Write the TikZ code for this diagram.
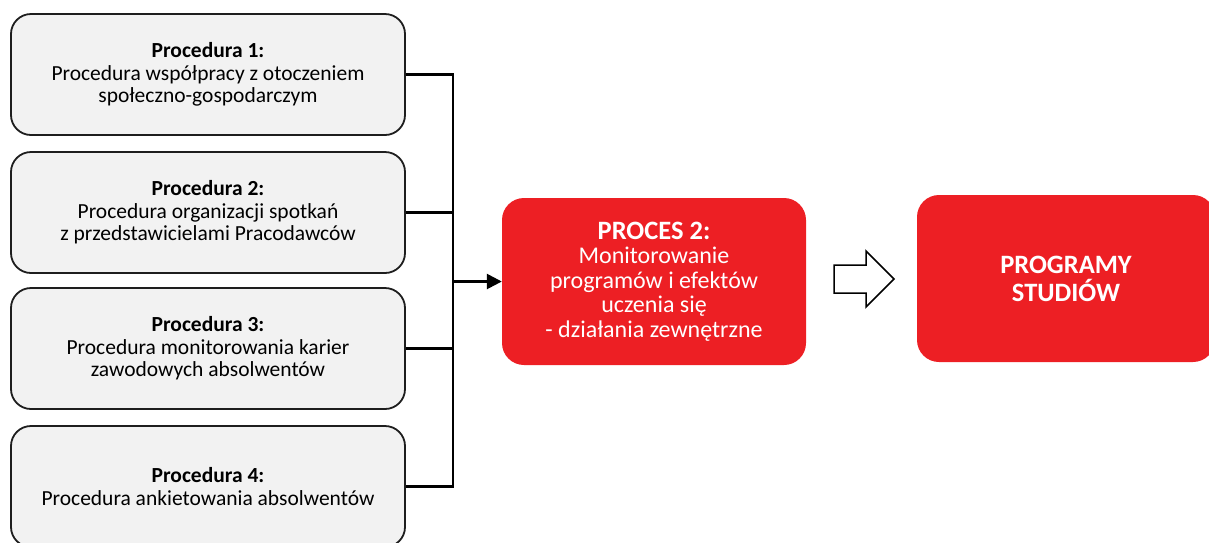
\documentclass[tikz,border=0pt]{standalone}
\usepackage{fontspec}
\setmainfont{Carlito}
\usetikzlibrary{arrows.meta}
\definecolor{procgray}{HTML}{F2F2F2}
\definecolor{edgegray}{HTML}{1E1E1E}
\definecolor{pred}{HTML}{ED1F24}
\tikzset{
  procbox/.style={draw=edgegray, line width=1.8pt, fill=procgray, rounded corners=20pt,
    minimum width=394pt, minimum height=121pt, inner sep=0pt, align=center,
    font=\fontsize{21.5}{22.5}\selectfont, text=black},
  redbox/.style={fill=pred, rounded corners=22pt, inner sep=0pt, align=center,
    text=white},
  bus/.style={line width=2.6pt, draw=black},
}
\begin{document}
\begin{tikzpicture}[x=1pt,y=-1pt]
  \useasboundingbox (0,0) rectangle (1209,542);
  \clip (0,0) rectangle (1209,542);
  % input procedures
  \node[procbox] (p1) at (208,74.5) {\textbf{Procedura 1:}\\Procedura współpracy z otoczeniem\\społeczno-gospodarczym};
  \node[procbox] (p2) at (208,212.5) {\textbf{Procedura 2:}\\Procedura organizacji spotkań\\z przedstawicielami Pracodawców};
  \node[procbox] (p3) at (208,348.5) {\textbf{Procedura 3:}\\Procedura monitorowania karier\\zawodowych absolwentów};
  \node[procbox] (p4) at (208,486.5) {\textbf{Procedura 4:}\\Procedura ankietowania absolwentów};
  % process and result
  \node[redbox, minimum width=304pt, minimum height=167pt,
        font=\fontsize{24}{24.5}\selectfont] (proc) at (654,281.5)
    {\textbf{\fontsize{26.5}{27}\selectfont PROCES 2:}\\Monitorowanie\\programów i efektów\\uczenia się\\- działania zewnętrzne};
  \node[redbox, minimum width=298pt, minimum height=167pt,
        font=\fontsize{26.5}{28}\selectfont\bfseries] (prog) at (1066,278.5)
    {PROGRAMY\\STUDIÓW};
  % collecting bus
  \coordinate (bx) at (453,0);
  \draw[bus] (p1.east) -| (bx |- p4.east) -- (p4.east);
  \draw[bus] (p2.east) -- (bx |- p2.east);
  \draw[bus] (p3.east) -- (bx |- p3.east);
  \coordinate (bm) at (bx |- proc.west);
  \draw[bus, -{Triangle[length=15pt,width=15pt]}] (bm) -- (proc.west);
  % hollow block arrow
  \draw[line width=1.5pt, fill=white, line join=miter]
    (834,265) -- (866,265) -- (866,251) -- (894,279) -- (866,307) -- (866,293) -- (834,293) -- cycle;
\end{tikzpicture}
\end{document}
